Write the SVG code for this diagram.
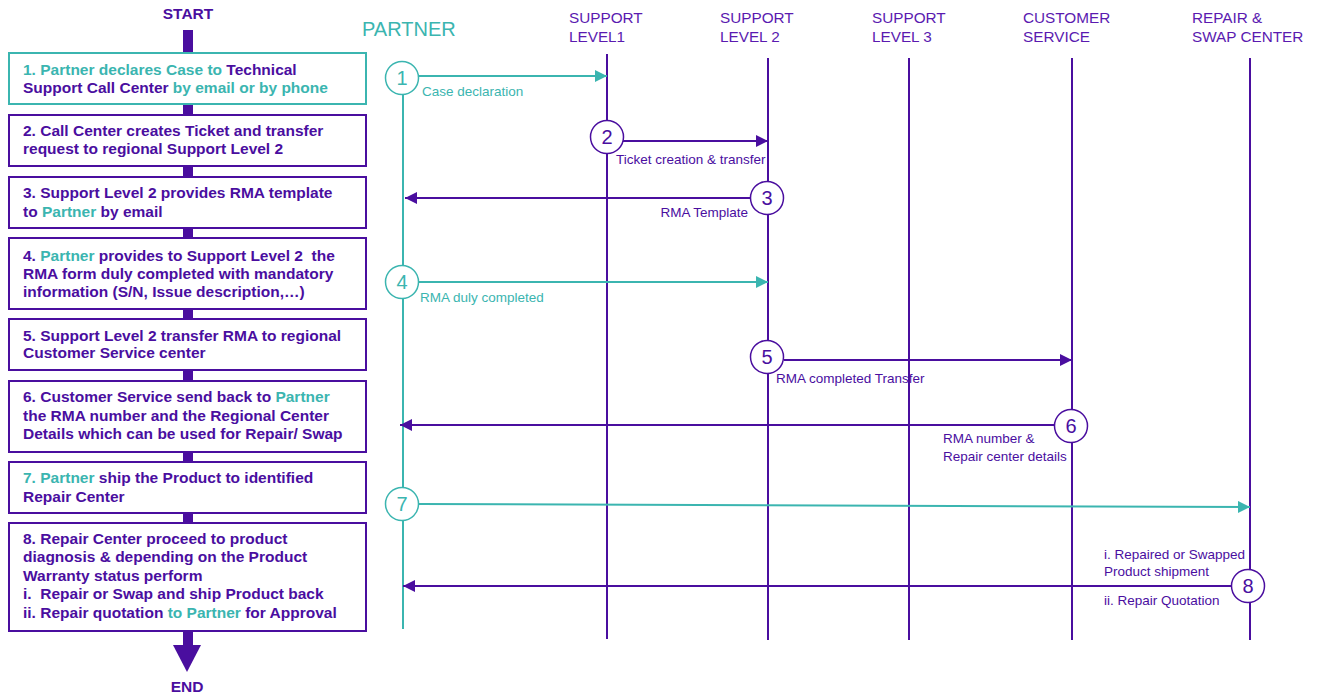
<svg xmlns="http://www.w3.org/2000/svg" width="1319" height="694" viewBox="0 0 1319 694">
<defs>
<style>
.bt{font-family:"Liberation Sans",Arial,sans-serif;font-weight:bold;font-size:15.5px;fill:#4a0e9f;white-space:pre}
.tl{fill:#3bb5b0}
.pu{fill:#4a0e9f}
.hd{font-family:"Liberation Sans",Arial,sans-serif;font-size:15.3px;fill:#5a1ab0}
.lb{font-family:"Liberation Sans",Arial,sans-serif;font-size:13.5px}
.num{font-family:"Liberation Sans",Arial,sans-serif;font-size:20px;text-anchor:middle}
.box{fill:#fff;stroke:#4a0e9f;stroke-width:2}
.boxt{fill:#fff;stroke:#3bb5b0;stroke-width:2}
.ll{stroke:#4a0e9f;stroke-width:2;fill:none}
.llt{stroke:#3bb5b0;stroke-width:2;fill:none}
.cp{fill:#fff;stroke:#4a0e9f;stroke-width:1.5}
.ct{fill:#fff;stroke:#3bb5b0;stroke-width:1.5}
</style>
<marker id="ap" viewBox="0 0 10 10" refX="10" refY="5" markerWidth="6" markerHeight="6" orient="auto" markerUnits="strokeWidth"><path d="M0,0 L10,5 L0,10 z" fill="#4a0e9f"/></marker>
<marker id="at" viewBox="0 0 10 10" refX="10" refY="5" markerWidth="6" markerHeight="6" orient="auto" markerUnits="strokeWidth"><path d="M0,0 L10,5 L0,10 z" fill="#3bb5b0"/></marker>
</defs>
<rect width="1319" height="694" fill="#fff"/>

<g id="flow-spine">
<text class="bt" x="188" y="19" text-anchor="middle">START</text>
<rect x="183" y="30" width="10" height="615" fill="#4a0e9f"/>
<path d="M173,645 L201,645 L187,672 z" fill="#4a0e9f"/>
<text class="bt" x="187" y="692" text-anchor="middle">END</text>
</g>

<g id="step1">
<rect class="boxt" x="9" y="53" width="357" height="51"/>
<text class="bt" x="23" y="75"><tspan class="tl">1. Partner declares Case to </tspan>Technical</text>
<text class="bt" x="23" y="93">Support Call Center<tspan class="tl"> by email or by phone</tspan></text>
</g>
<g id="step2">
<rect class="box" x="9" y="115" width="357" height="51"/>
<text class="bt" x="23" y="136">2. Call Center creates Ticket and transfer</text>
<text class="bt" x="23" y="154">request to regional Support Level 2</text>
</g>
<g id="step3">
<rect class="box" x="9" y="177" width="357" height="51"/>
<text class="bt" x="23" y="198">3. Support Level 2 provides RMA template</text>
<text class="bt" x="23" y="217">to <tspan class="tl">Partner</tspan> by email</text>
</g>
<g id="step4">
<rect class="box" x="9" y="238" width="357" height="71"/>
<text class="bt" x="23" y="261">4. <tspan class="tl">Partner</tspan> provides to Support Level 2  the</text>
<text class="bt" x="23" y="279">RMA form duly completed with mandatory</text>
<text class="bt" x="23" y="297">information (S/N, Issue description,…)</text>
</g>
<g id="step5">
<rect class="box" x="9" y="319" width="357" height="51"/>
<text class="bt" x="23" y="341">5. Support Level 2 transfer RMA to regional</text>
<text class="bt" x="23" y="358">Customer Service center</text>
</g>
<g id="step6">
<rect class="box" x="9" y="381" width="357" height="71"/>
<text class="bt" x="23" y="402">6. Customer Service send back to <tspan class="tl">Partner</tspan></text>
<text class="bt" x="23" y="421">the RMA number and the Regional Center</text>
<text class="bt" x="23" y="439">Details which can be used for Repair/ Swap</text>
</g>
<g id="step7">
<rect class="box" x="9" y="462" width="357" height="51"/>
<text class="bt" x="23" y="483"><tspan class="tl">7. Partner</tspan> ship the Product to identified</text>
<text class="bt" x="23" y="502">Repair Center</text>
</g>
<g id="step8">
<rect class="box" x="9" y="523" width="357" height="108"/>
<text class="bt" x="23" y="544">8. Repair Center proceed to product</text>
<text class="bt" x="23" y="562">diagnosis &amp; depending on the Product</text>
<text class="bt" x="23" y="581">Warranty status perform</text>
<text class="bt" x="23" y="599">i.  Repair or Swap and ship Product back</text>
<text class="bt" x="23" y="618">ii. Repair quotation <tspan class="tl">to Partner</tspan> for Approval</text>
</g>

<g id="lane-partner">
<text x="362" y="36" font-family="'Liberation Sans',Arial,sans-serif" font-size="20" fill="#3bb5b0">PARTNER</text>
<line class="llt" x1="403" y1="93" x2="403" y2="629"/>
</g>
<g id="lane-support1">
<text class="hd" x="569" y="23">SUPPORT</text>
<text class="hd" x="569" y="42">LEVEL1</text>
<line class="ll" x1="607" y1="54" x2="607" y2="639"/>
</g>
<g id="lane-support2">
<text class="hd" x="720" y="23">SUPPORT</text>
<text class="hd" x="720" y="42">LEVEL 2</text>
<line class="ll" x1="768" y1="58" x2="768" y2="640"/>
</g>
<g id="lane-support3">
<text class="hd" x="872" y="23">SUPPORT</text>
<text class="hd" x="872" y="42">LEVEL 3</text>
<line class="ll" x1="909" y1="58" x2="909" y2="640"/>
</g>
<g id="lane-customer">
<text class="hd" x="1023" y="23">CUSTOMER</text>
<text class="hd" x="1023" y="42">SERVICE</text>
<line class="ll" x1="1072" y1="58" x2="1072" y2="640"/>
</g>
<g id="lane-repair">
<text class="hd" x="1192" y="23">REPAIR &amp;</text>
<text class="hd" x="1192" y="42">SWAP CENTER</text>
<line class="ll" x1="1250" y1="58" x2="1250" y2="640"/>
</g>

<g id="connectors">
<line class="llt" x1="419" y1="76" x2="607" y2="76" marker-end="url(#at)"/>
<line class="ll" x1="623" y1="141" x2="768" y2="141" marker-end="url(#ap)"/>
<line class="ll" x1="751" y1="198" x2="405" y2="198" marker-end="url(#ap)"/>
<line class="llt" x1="419" y1="282" x2="768" y2="282" marker-end="url(#at)"/>
<line class="ll" x1="784" y1="360" x2="1072" y2="360" marker-end="url(#ap)"/>
<line class="ll" x1="1054" y1="425" x2="400" y2="425" marker-end="url(#ap)"/>
<line class="llt" x1="419" y1="504" x2="1250" y2="507" marker-end="url(#at)"/>
<line class="ll" x1="1231" y1="586" x2="403" y2="586" marker-end="url(#ap)"/>
</g>

<g id="msg1">
<circle class="ct" cx="402" cy="78" r="16.5"/>
<text class="num tl" x="402" y="85">1</text>
<text class="lb tl" x="422" y="96">Case declaration</text>
</g>
<g id="msg2">
<circle class="cp" cx="607" cy="137" r="16.5"/>
<text class="num pu" x="607" y="144">2</text>
<text class="lb pu" x="616" y="164">Ticket creation &amp; transfer</text>
</g>
<g id="msg3">
<circle class="cp" cx="767" cy="198" r="16.5"/>
<text class="num pu" x="767" y="205">3</text>
<text class="lb pu" x="748" y="217" text-anchor="end">RMA Template</text>
</g>
<g id="msg4">
<circle class="ct" cx="402" cy="282" r="16.5"/>
<text class="num tl" x="402" y="289">4</text>
<text class="lb tl" x="420" y="302">RMA duly completed</text>
</g>
<g id="msg5">
<circle class="cp" cx="767" cy="357" r="16.5"/>
<text class="num pu" x="767" y="364">5</text>
<text class="lb pu" x="776" y="383">RMA completed Transfer</text>
</g>
<g id="msg6">
<circle class="cp" cx="1071" cy="426" r="16.5"/>
<text class="num pu" x="1071" y="433">6</text>
<text class="lb pu" x="943" y="443">RMA number &amp;</text>
<text class="lb pu" x="943" y="461">Repair center details</text>
</g>
<g id="msg7">
<circle class="ct" cx="402" cy="504" r="16.5"/>
<text class="num tl" x="402" y="511">7</text>
</g>
<g id="msg8">
<circle class="cp" cx="1248" cy="586" r="16.5"/>
<text class="num pu" x="1248" y="593">8</text>
<text class="lb pu" x="1104" y="559">i. Repaired or Swapped</text>
<text class="lb pu" x="1104" y="576">Product shipment</text>
<text class="lb pu" x="1104" y="605">ii. Repair Quotation</text>
</g>
</svg>
